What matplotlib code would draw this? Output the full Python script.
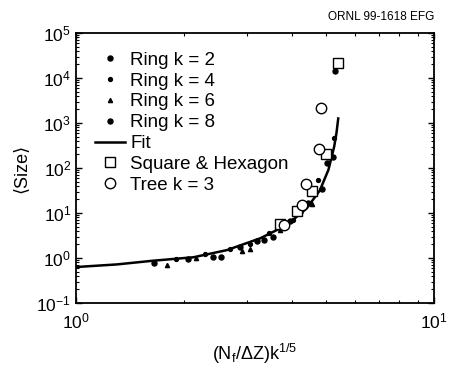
import matplotlib
matplotlib.use("Agg")
import matplotlib.pyplot as plt
from matplotlib.ticker import NullFormatter

plt.rcParams['font.family'] = ['Liberation Sans', 'DejaVu Sans']
plt.rcParams['mathtext.fontset'] = 'custom'
plt.rcParams['mathtext.rm'] = 'Liberation Sans'
plt.rcParams['mathtext.it'] = 'Liberation Sans'

# ring data, one list per k
ring2_x = [1.655, 2.06, 2.41, 2.87, 3.20, 3.56, 3.96, 4.46, 5.01]
ring2_y = [0.787, 0.933, 1.03, 1.73, 2.35, 2.88, 6.76, 17.0, 127.0]
ring4_x = [1.903, 2.29, 2.69, 3.06, 3.47, 4.05, 4.75, 5.26]
ring4_y = [0.933, 1.23, 1.56, 2.05, 3.53, 6.99, 54.0, 456.0]
ring6_x = [1.792, 2.17, 2.90, 3.06, 3.71, 4.57, 5.07]
ring6_y = [0.70, 0.98, 1.46, 1.56, 4.19, 15.8, 179.0]
ring8_x = [2.54, 3.34, 4.22, 4.60, 4.86, 5.23, 5.29]
ring8_y = [1.03, 2.51, 10.5, 27.4, 35.0, 179.0, 14560.0]

# fitted curve
fit_x = [1.0, 1.3, 1.64, 2.13, 2.64, 3.27, 3.88, 4.41, 4.80, 5.07, 5.26, 5.34, 5.40]
fit_y = [0.63, 0.72, 0.87, 1.04, 1.50, 2.74, 5.4, 12.7, 32.0, 91.0, 295.0, 600.0, 1260.0]

square_x = [3.71, 4.15, 4.57, 4.98, 5.38]
square_y = [5.7, 10.9, 30.8, 205.0, 21200.0]

tree_x = [3.81, 4.29, 4.39, 4.76, 4.83]
tree_y = [5.5, 15.1, 43.4, 269.0, 2190.0]

fig = plt.figure(figsize=(4.5, 3.68), dpi=100)
ax = fig.add_axes([0.1689, 0.1766, 0.7956, 0.7337])

ax.plot(ring2_x, ring2_y, 'o', color='k', ms=3.6, ls='none', label='Ring k = 2')
ax.plot(ring4_x, ring4_y, 'o', color='k', ms=2.8, ls='none', label='Ring k = 4')
ax.plot(ring6_x, ring6_y, '^', color='k', ms=3.0, ls='none', label='Ring k = 6')
ax.plot(ring8_x, ring8_y, 'o', color='k', ms=3.6, ls='none', label='Ring k = 8')
ax.plot(fit_x, fit_y, '-', color='k', lw=1.8, label='Fit')
ax.plot(square_x, square_y, 's', mfc='white', mec='k', mew=1.0, ms=7.5, ls='none',
        label='Square & Hexagon')
ax.plot(tree_x, tree_y, 'o', mfc='white', mec='k', mew=1.0, ms=7.5, ls='none',
        label='Tree k = 3')

ax.set_xscale('log')
ax.set_yscale('log')
ax.set_xlim(1, 10)
ax.set_ylim(0.1, 1e5)
ax.xaxis.set_minor_formatter(NullFormatter())
ax.yaxis.set_minor_formatter(NullFormatter())

ax.tick_params(which='both', direction='in', top=True, right=True, labelsize=12.5)
ax.tick_params(which='major', length=4, width=1)
ax.tick_params(which='minor', length=2, width=0.8)
ax.tick_params(axis='x', pad=6)
for s in ax.spines.values():
    s.set_linewidth(1.3)

ax.set_xlabel('(N$_\\mathregular{f}$/ΔZ)k$^\\mathregular{1/5}$', fontsize=13, labelpad=8)
ax.set_ylabel('⟨Size⟩', fontsize=13, labelpad=4)

ax.legend(loc='upper left', bbox_to_anchor=(0.015, 0.98), frameon=False, fontsize=13.5,
          handlelength=1.6, handletextpad=0.3, labelspacing=0.2, borderpad=0.5,
          borderaxespad=0.2)

fig.text(0.965, 0.955, 'ORNL 99-1618 EFG', ha='right', va='center', fontsize=8.5)

fig.savefig('out.png', dpi=100)
